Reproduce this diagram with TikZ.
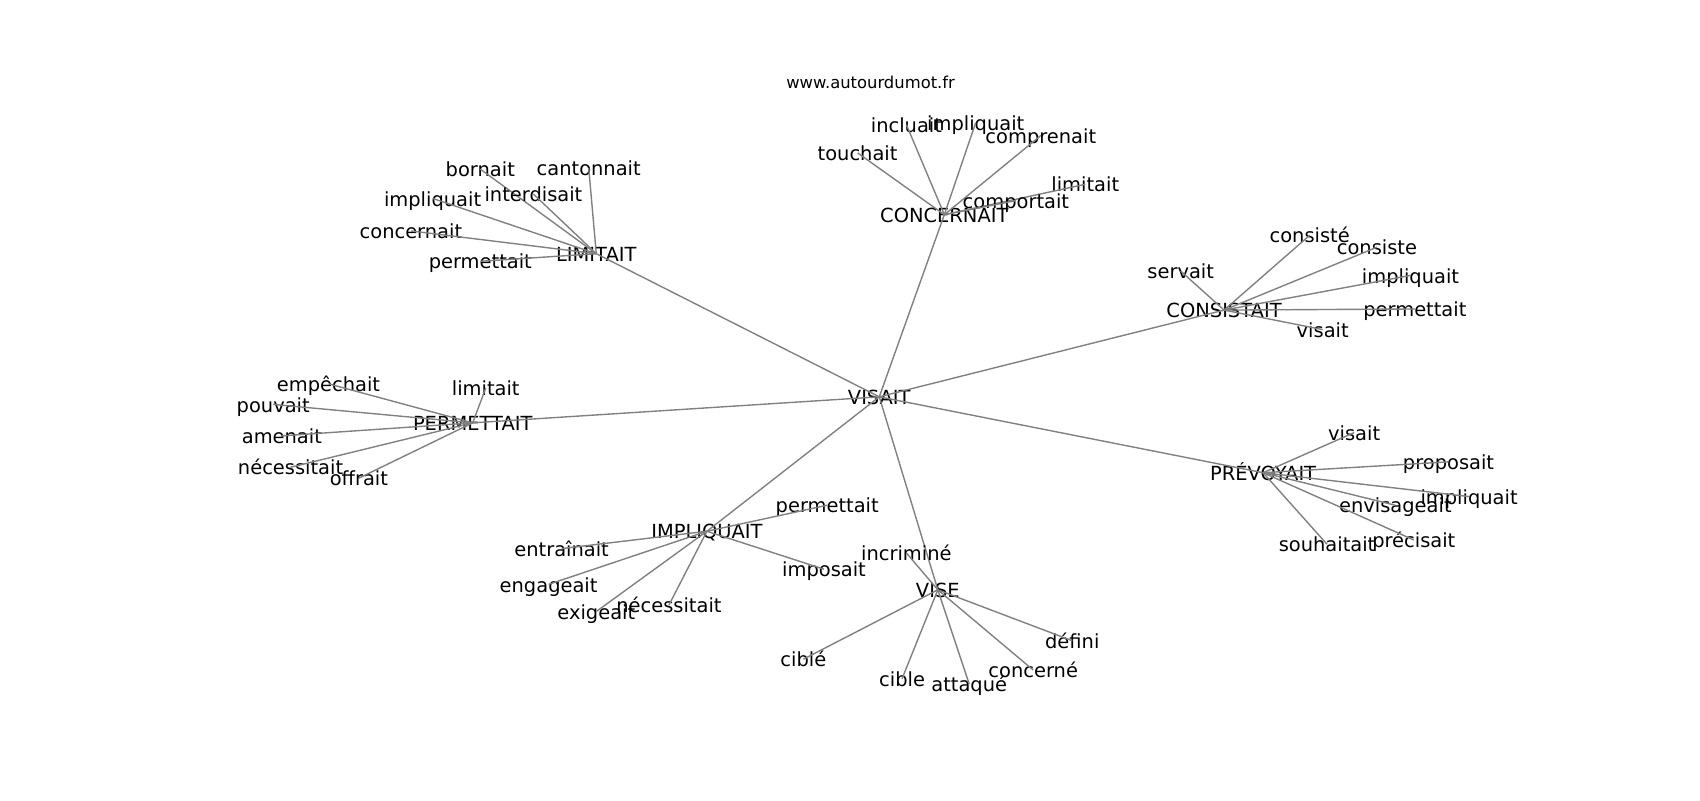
\documentclass[tikz,border=0pt]{standalone}
\usepackage{fontspec}
\setmainfont{DejaVu Sans}
\tikzset{
  word/.style={inner sep=0pt,text height=11pt,text depth=0pt,font=\fontsize{14}{16}\selectfont},
  link/.style={draw=gray,line width=1pt}
}
\begin{document}
\begin{tikzpicture}[x=0.7806pt,y=-0.7806pt]
  \useasboundingbox (0,0) rectangle (1568,738);
  \node[font=\fontsize{11.8}{13}\selectfont] (site) at (803,76) {www.autourdumot.fr};
  \node[word] (visait) at (811,366) {VISAIT};
  \node[word] (concernait) at (871,198) {CONCERNAIT};
  \node[word] (limitait) at (550,234) {LIMITAIT};
  \node[word] (consistait) at (1129,286) {CONSISTAIT};
  \node[word] (permettait) at (436,390) {PERMETTAIT};
  \node[word] (impliquait) at (652,490) {IMPLIQUAIT};
  \node[word] (vise) at (865,544) {VISE};
  \node[word] (prevoyait) at (1165,436) {PRÉVOYAIT};
  \foreach \hub in {concernait,limitait,consistait,permettait,impliquait,vise,prevoyait}
    \draw[link] (visait.center) -- (\hub.center);
  \foreach \x/\y/\w [count=\i] in {791/141/touchait,836/115/incluait,900/113/impliquait,
      960/125/comprenait,1001/170/limitait,937/185/comportait} {
    \node[word] (conc\i) at (\x,\y) {\w};
    \draw[link] (concernait.center) -- (conc\i.center);
  }
  \foreach \x/\y/\w [count=\i] in {443/156/bornait,543/155/cantonnait,399/183/impliquait,
      492/179/interdisait,379/213/concernait,443/241/permettait} {
    \node[word] (lim\i) at (\x,\y) {\w};
    \draw[link] (limitait.center) -- (lim\i.center);
  }
  \foreach \x/\y/\w [count=\i] in {1208/217/consisté,1270/228/consiste,1089/250/servait,
      1301/254/impliquait,1305/285/permettait,1220/304/visait} {
    \node[word] (cons\i) at (\x,\y) {\w};
    \draw[link] (consistait.center) -- (cons\i.center);
  }
  \foreach \x/\y/\w [count=\i] in {303/354/empêchait,448/358/limitait,252/373/pouvait,
      260/402/amenait,268/431/nécessitait,331/441/offrait} {
    \node[word] (perm\i) at (\x,\y) {\w};
    \draw[link] (permettait.center) -- (perm\i.center);
  }
  \foreach \x/\y/\w [count=\i] in {763/466/permettait,518/506/entraînait,760/525/imposait,
      506/539/engageait,550/564/exigeait,617/558/nécessitait} {
    \node[word] (impl\i) at (\x,\y) {\w};
    \draw[link] (impliquait.center) -- (impl\i.center);
  }
  \foreach \x/\y/\w [count=\i] in {836/510/incriminé,741/608/ciblé,832/626/cible,
      894/631/attaqué,953/618/concerné,989/591/défini} {
    \node[word] (vise\i) at (\x,\y) {\w};
    \draw[link] (vise.center) -- (vise\i.center);
  }
  \foreach \x/\y/\w [count=\i] in {1249/399/visait,1336/426/proposait,1355/458/impliquait,
      1287/466/envisageait,1304/498/précisait,1224/502/souhaitait} {
    \node[word] (prev\i) at (\x,\y) {\w};
    \draw[link] (prevoyait.center) -- (prev\i.center);
  }
\end{tikzpicture}
\end{document}
